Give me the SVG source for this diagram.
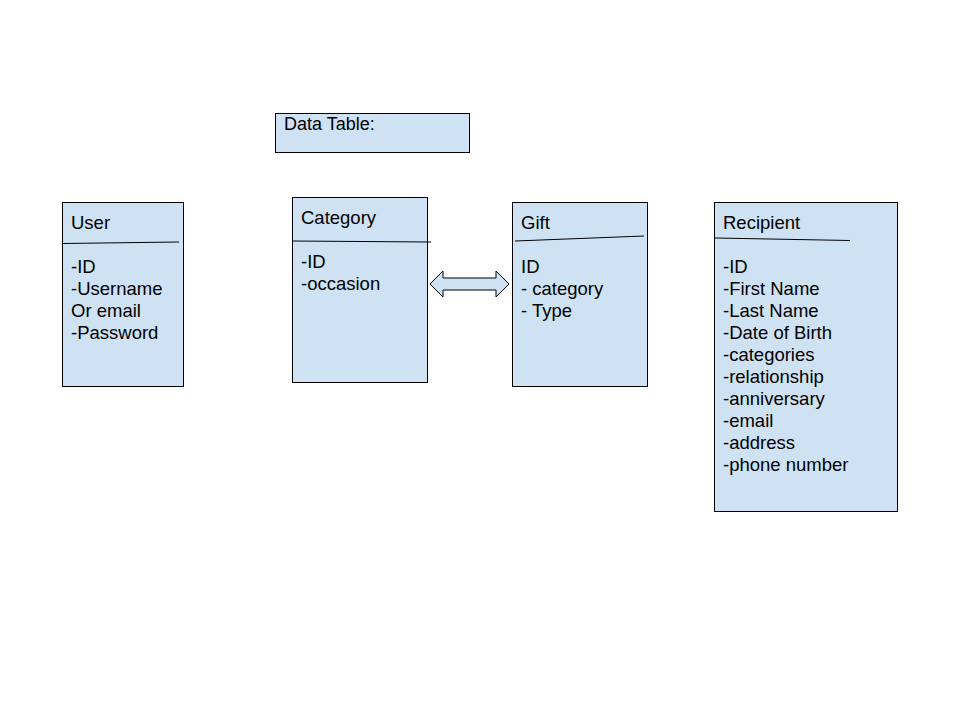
<svg xmlns="http://www.w3.org/2000/svg" width="960" height="720" viewBox="0 0 960 720">
<style>
.box{fill:#cfe2f3;stroke:#000;stroke-width:1}
.sep{stroke:#000;stroke-width:1;fill:none}
text{font-family:"Liberation Sans",Arial,sans-serif;font-size:18.5px;fill:#000}
</style>
<rect width="960" height="720" fill="#fff"/>
<g id="data-table">
<rect class="box" x="275.5" y="113.5" width="194" height="39"/>
<text x="284" y="130" style="font-size:18px">Data Table:</text>
</g>
<g id="user">
<rect class="box" x="62.5" y="202.5" width="121" height="184"/>
<line class="sep" x1="63" y1="243.5" x2="179" y2="242"/>
<text x="71" y="229">User</text>
<text x="71" y="273">-ID</text>
<text x="71" y="295">-Username</text>
<text x="71" y="317">Or email</text>
<text x="71" y="339">-Password</text>
</g>
<g id="category">
<rect class="box" x="292.5" y="197.5" width="135" height="185"/>
<line class="sep" x1="292" y1="241" x2="431" y2="242"/>
<text x="301" y="224">Category</text>
<text x="301" y="268">-ID</text>
<text x="301" y="290">-occasion</text>
</g>
<g id="gift">
<rect class="box" x="512.5" y="202.5" width="135" height="184"/>
<line class="sep" x1="515" y1="241" x2="644" y2="236"/>
<text x="521" y="229">Gift</text>
<text x="521" y="273">ID</text>
<text x="521" y="295">- category</text>
<text x="521" y="317">- Type</text>
</g>
<g id="recipient">
<rect class="box" x="714.5" y="202.5" width="183" height="309"/>
<line class="sep" x1="715" y1="238" x2="850" y2="240.5"/>
<text x="723" y="229">Recipient</text>
<text x="723" y="273">-ID</text>
<text x="723" y="295">-First Name</text>
<text x="723" y="317">-Last Name</text>
<text x="723" y="339">-Date of Birth</text>
<text x="723" y="361">-categories</text>
<text x="723" y="383">-relationship</text>
<text x="723" y="405">-anniversary</text>
<text x="723" y="427">-email</text>
<text x="723" y="449">-address</text>
<text x="723" y="471">-phone number</text>
</g>
<g id="connectors">
<polygon class="box" points="430,284 443,271 443,278 496,278 496,271 509,284 496,297 496,290 443,290 443,297"/>
</g>
</svg>
